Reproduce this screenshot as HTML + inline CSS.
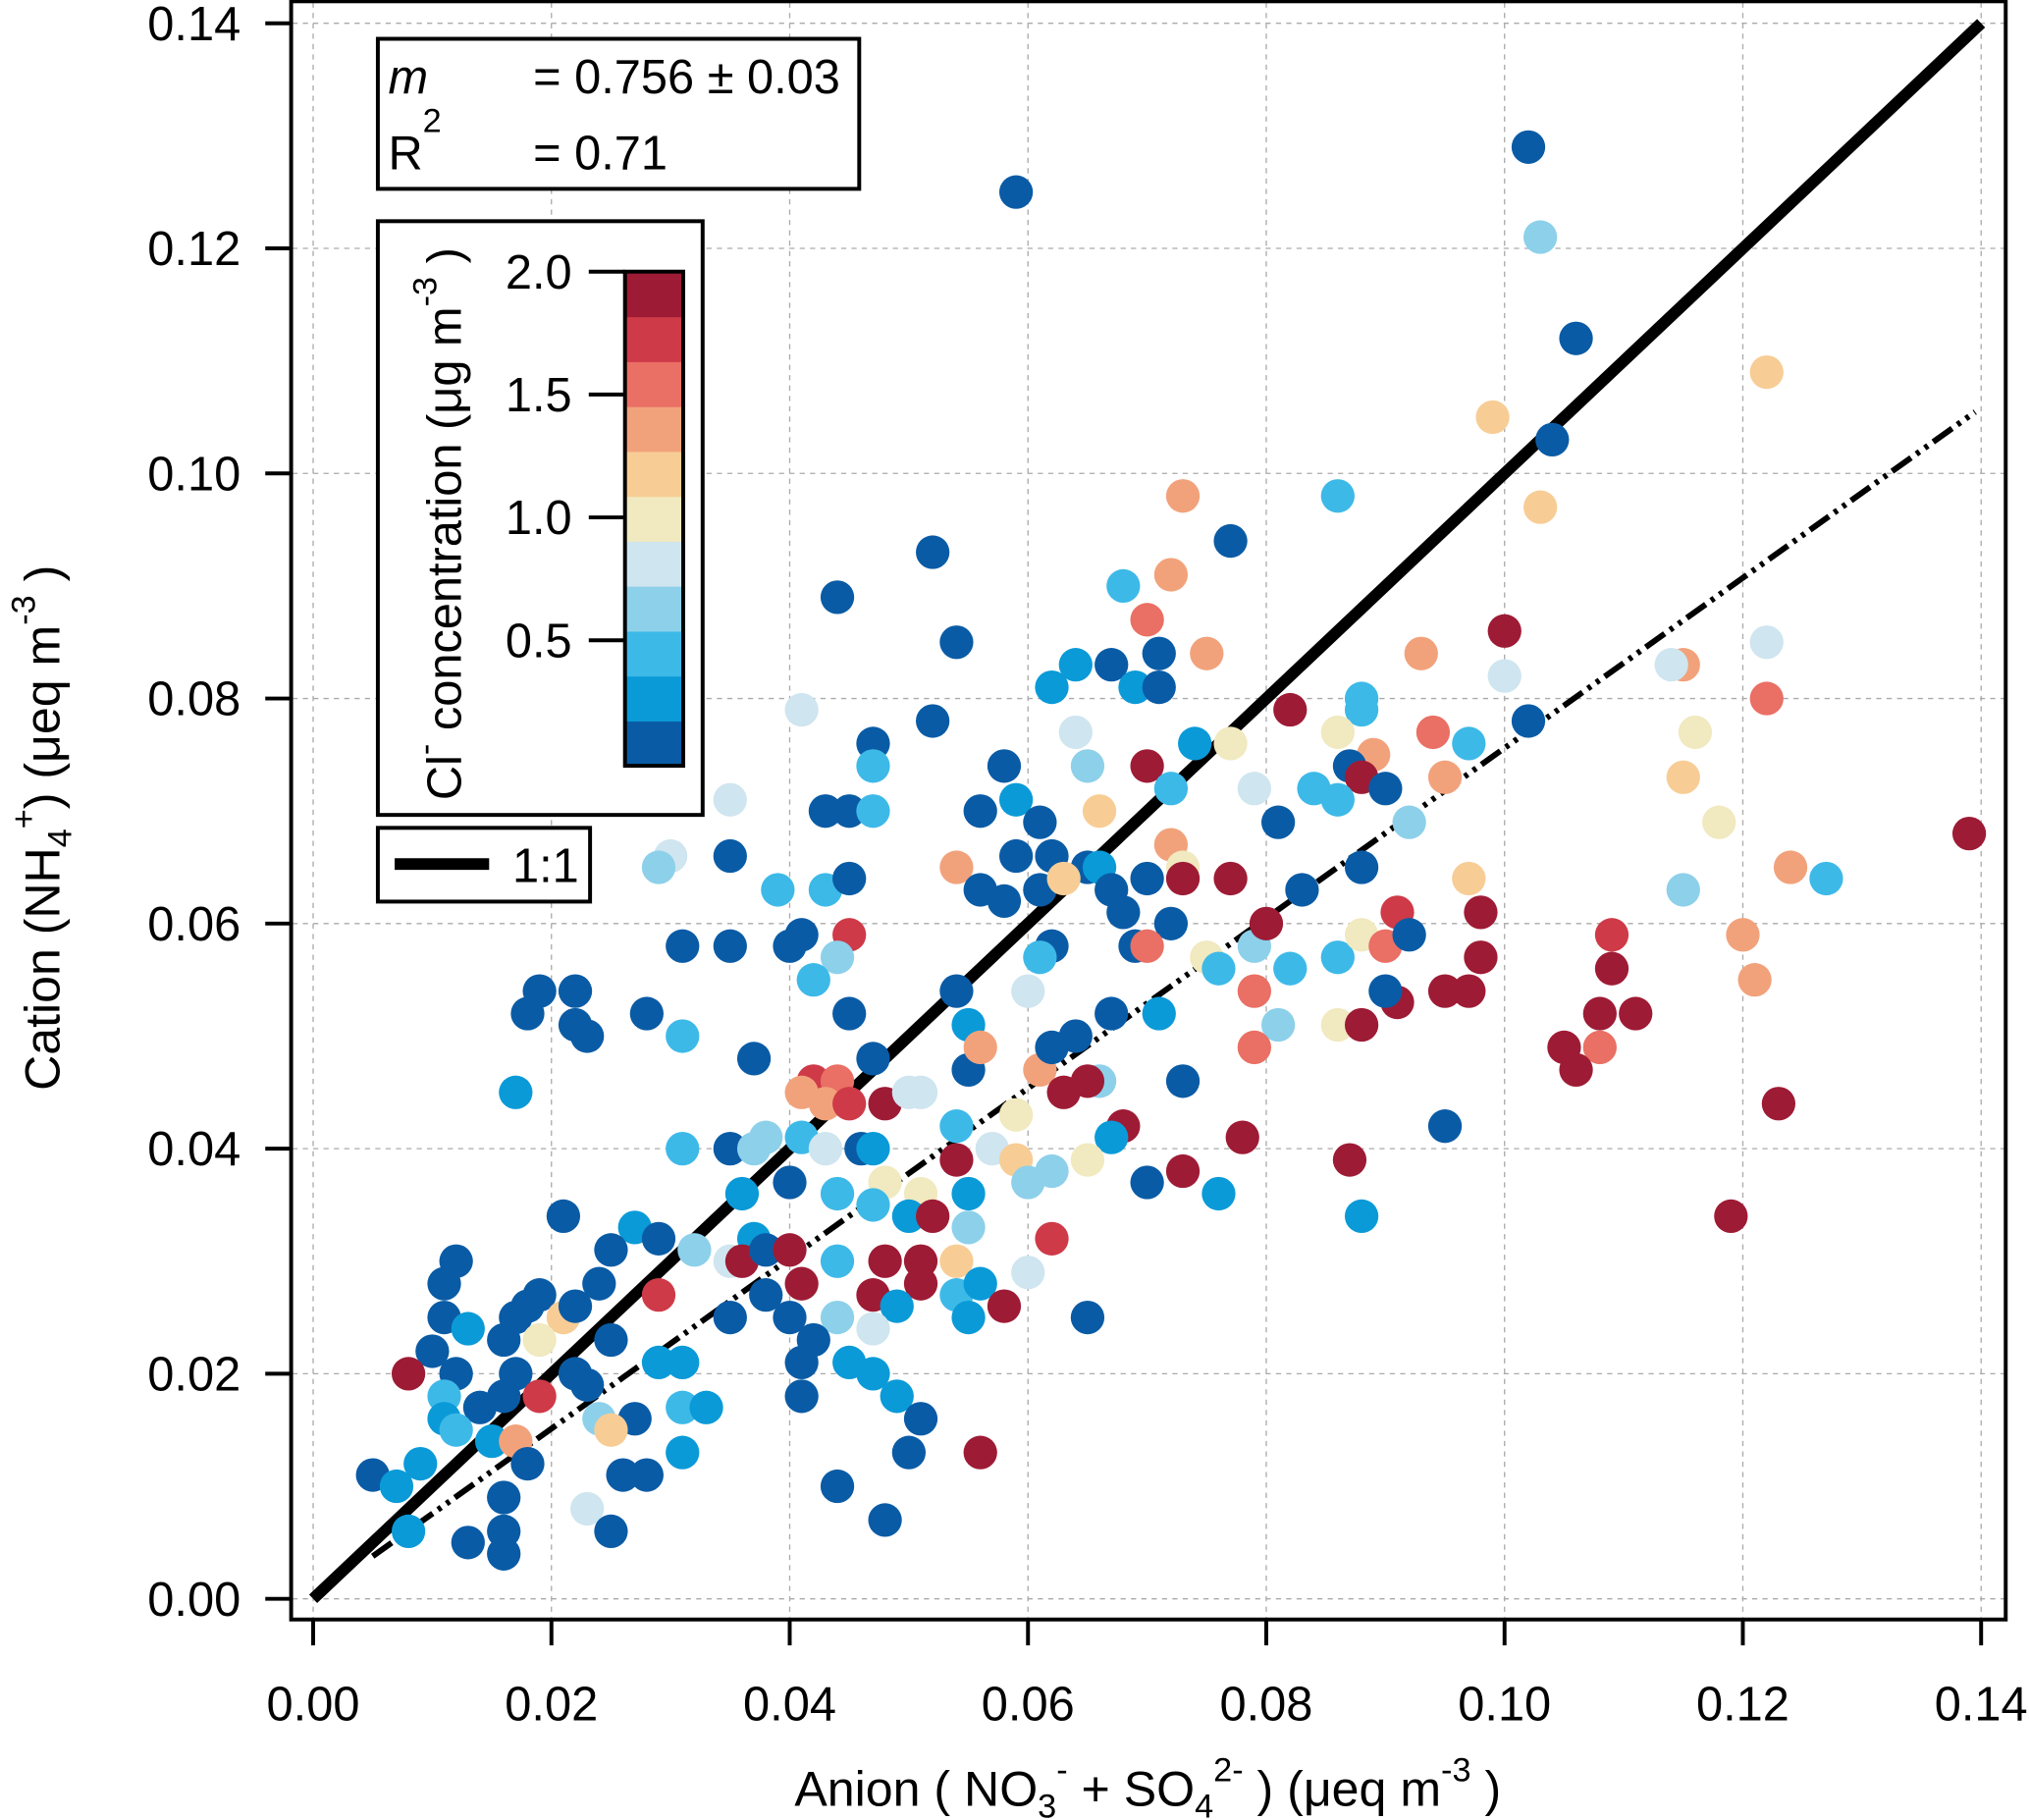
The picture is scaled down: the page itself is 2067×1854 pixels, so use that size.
<!DOCTYPE html>
<html><head><meta charset="utf-8"><style>
html,body{margin:0;padding:0;background:#fff;}
svg{display:block;font-family:"Liberation Sans",Arial,sans-serif;}
</style></head><body>
<svg id="chart" width="2067" height="1854" viewBox="0 0 1568 1407" preserveAspectRatio="none" xmlns="http://www.w3.org/2000/svg">
<g id="grid"></g>
<g id="lines"></g>
<g id="points"></g>
<rect x="225" y="1" width="1325" height="1251" fill="none" stroke="#000" stroke-width="3"/>
<g id="axes"></g>
<text x="887" y="1396" font-size="38" text-anchor="middle">Anion ( NO<tspan font-size="26" dy="9">3</tspan><tspan font-size="26" dy="-28">-</tspan><tspan dy="19"> + SO</tspan><tspan font-size="26" dy="9">4</tspan><tspan font-size="26" dy="-28">2-</tspan><tspan dy="19"> ) (μeq m</tspan><tspan font-size="26" dy="-19">-3</tspan><tspan dy="19"> )</tspan></text>
<text transform="translate(46,640) rotate(-90)" font-size="38" text-anchor="middle">Cation (NH<tspan font-size="26" dy="9">4</tspan><tspan font-size="26" dy="-28">+</tspan><tspan dy="19">) (μeq m</tspan><tspan font-size="26" dy="-19">-3</tspan><tspan dy="19"> )</tspan></text>
<g>
<rect x="292" y="30" width="372" height="116" fill="#fff" stroke="#000" stroke-width="3"/>
<text x="300" y="72" font-size="37" font-style="italic">m</text>
<text x="412" y="72" font-size="37">= 0.756 ± 0.03</text>
<text x="300" y="131" font-size="37">R<tspan font-size="26" dy="-29">2</tspan></text>
<text x="412" y="131" font-size="37">= 0.71</text>
</g>
<g id="cbar">
<rect x="292" y="171" width="251" height="459" fill="#fff" stroke="#000" stroke-width="3"/>
<text transform="translate(356,405) rotate(-90)" font-size="37" text-anchor="middle">Cl<tspan font-size="26" dy="-19">-</tspan><tspan dy="19"> concentration (μg m</tspan><tspan font-size="26" dy="-19">-3</tspan><tspan dy="19"> )</tspan></text>
</g>
<g>
<rect x="292" y="640" width="164" height="57" fill="#fff" stroke="#000" stroke-width="3"/>
<line x1="305" y1="668" x2="378" y2="668" stroke="#000" stroke-width="9"/>
<text x="396" y="682" font-size="37">1:1</text>
</g>
<script>
const xTicks=[0,0.02,0.04,0.06,0.08,0.10,0.12,0.14];
const yTicks=[0,0.02,0.04,0.06,0.08,0.10,0.12,0.14];
const colors=["#0a5ba5","#0a9ad8","#3db9e8","#8dd0ea","#cfe5ef","#f1e9bf","#f7cd95","#f2a27b","#ea6f64","#cf3a48","#9e1b35"];
const cbarTicks=[0.5,1.0,1.5,2.0];
const slope=0.756;
const xs=[0.102,0.059,0.103,0.106,0.122,0.099,0.104,0.103,0.073,0.086,0.077,0.052,0.072,0.068,0.044,0.070,0.100,0.054,0.071,0.075,0.093,0.122,0.064,0.067,0.115,0.114,0.100,0.062,0.069,0.071,0.052,0.041,0.082,0.088,0.088,0.122,0.102,0.086,0.116,0.047,0.064,0.074,0.077,0.094,0.097,0.058,0.065,0.070,0.047,0.089,0.087,0.095,0.115,0.088,0.035,0.059,0.072,0.079,0.084,0.086,0.090,0.043,0.045,0.047,0.056,0.066,0.061,0.081,0.092,0.118,0.030,0.029,0.035,0.054,0.059,0.062,0.065,0.066,0.072,0.073,0.088,0.124,0.139,0.039,0.043,0.045,0.056,0.058,0.061,0.063,0.067,0.070,0.073,0.077,0.083,0.097,0.127,0.115,0.031,0.035,0.040,0.041,0.045,0.044,0.042,0.062,0.061,0.068,0.069,0.072,0.070,0.075,0.076,0.079,0.080,0.082,0.086,0.088,0.090,0.091,0.092,0.098,0.098,0.109,0.120,0.109,0.121,0.019,0.022,0.018,0.022,0.023,0.028,0.031,0.045,0.054,0.055,0.060,0.067,0.071,0.079,0.081,0.086,0.088,0.091,0.090,0.095,0.097,0.108,0.111,0.079,0.105,0.108,0.106,0.017,0.037,0.042,0.041,0.044,0.047,0.051,0.055,0.056,0.061,0.062,0.064,0.066,0.063,0.065,0.073,0.123,0.095,0.043,0.045,0.048,0.050,0.054,0.059,0.068,0.067,0.078,0.031,0.035,0.037,0.038,0.041,0.043,0.046,0.047,0.054,0.057,0.059,0.062,0.065,0.070,0.073,0.076,0.087,0.088,0.119,0.021,0.036,0.040,0.044,0.048,0.051,0.055,0.060,0.047,0.050,0.052,0.027,0.029,0.037,0.055,0.062,0.025,0.032,0.035,0.036,0.038,0.040,0.044,0.048,0.051,0.054,0.012,0.011,0.019,0.024,0.029,0.038,0.041,0.047,0.051,0.054,0.056,0.060,0.018,0.017,0.021,0.022,0.035,0.040,0.044,0.049,0.055,0.058,0.065,0.011,0.013,0.016,0.019,0.025,0.042,0.047,0.010,0.022,0.029,0.031,0.041,0.045,0.047,0.008,0.012,0.017,0.023,0.011,0.016,0.019,0.041,0.049,0.011,0.014,0.024,0.027,0.031,0.033,0.051,0.012,0.015,0.017,0.025,0.018,0.031,0.050,0.056,0.005,0.009,0.026,0.028,0.044,0.007,0.016,0.023,0.048,0.008,0.016,0.025,0.013,0.016];
const ys=[0.129,0.125,0.121,0.112,0.109,0.105,0.103,0.097,0.098,0.098,0.094,0.093,0.091,0.090,0.089,0.087,0.086,0.085,0.084,0.084,0.084,0.085,0.083,0.083,0.083,0.083,0.082,0.081,0.081,0.081,0.078,0.079,0.079,0.080,0.079,0.080,0.078,0.077,0.077,0.076,0.077,0.076,0.076,0.077,0.076,0.074,0.074,0.074,0.074,0.075,0.074,0.073,0.073,0.073,0.071,0.071,0.072,0.072,0.072,0.071,0.072,0.070,0.070,0.070,0.070,0.070,0.069,0.069,0.069,0.069,0.066,0.065,0.066,0.065,0.066,0.066,0.065,0.065,0.067,0.065,0.065,0.065,0.068,0.063,0.063,0.064,0.063,0.062,0.063,0.064,0.063,0.064,0.064,0.064,0.063,0.064,0.064,0.063,0.058,0.058,0.058,0.059,0.059,0.057,0.055,0.058,0.057,0.061,0.058,0.060,0.058,0.057,0.056,0.058,0.060,0.056,0.057,0.059,0.058,0.061,0.059,0.061,0.057,0.059,0.059,0.056,0.055,0.054,0.054,0.052,0.051,0.050,0.052,0.050,0.052,0.054,0.051,0.054,0.052,0.052,0.054,0.051,0.051,0.051,0.053,0.054,0.054,0.054,0.052,0.052,0.049,0.049,0.049,0.047,0.045,0.048,0.046,0.045,0.046,0.048,0.045,0.047,0.049,0.047,0.049,0.050,0.046,0.045,0.046,0.046,0.044,0.042,0.044,0.044,0.044,0.045,0.042,0.043,0.042,0.041,0.041,0.040,0.040,0.040,0.041,0.041,0.040,0.040,0.040,0.039,0.040,0.039,0.038,0.039,0.037,0.038,0.036,0.039,0.034,0.034,0.034,0.036,0.037,0.036,0.037,0.036,0.036,0.037,0.035,0.034,0.034,0.033,0.032,0.032,0.033,0.032,0.031,0.031,0.030,0.030,0.031,0.031,0.030,0.030,0.030,0.030,0.030,0.028,0.027,0.028,0.027,0.027,0.028,0.027,0.028,0.027,0.028,0.029,0.026,0.025,0.025,0.026,0.025,0.025,0.025,0.026,0.025,0.026,0.025,0.025,0.024,0.023,0.023,0.023,0.023,0.024,0.022,0.020,0.021,0.021,0.021,0.021,0.020,0.020,0.020,0.020,0.019,0.018,0.018,0.018,0.018,0.018,0.016,0.017,0.016,0.016,0.017,0.017,0.016,0.015,0.014,0.014,0.015,0.012,0.013,0.013,0.013,0.011,0.012,0.011,0.011,0.010,0.010,0.009,0.008,0.007,0.006,0.006,0.006,0.005,0.004];
const cs=[0,0,3,0,6,6,0,6,7,2,0,0,7,2,0,8,10,0,0,7,7,4,1,0,7,4,4,1,1,0,0,4,10,2,2,8,0,5,5,0,4,1,5,8,2,0,3,10,2,7,0,7,6,10,4,1,2,4,2,2,0,0,0,2,0,6,0,0,3,5,4,3,0,7,0,0,0,1,7,5,0,7,10,2,2,0,0,0,0,6,0,0,10,10,0,6,2,3,0,0,0,0,9,3,2,0,2,0,0,0,8,5,2,3,10,2,2,5,8,9,0,10,10,9,7,10,7,0,0,0,0,0,0,2,0,0,1,4,0,1,8,3,5,10,10,0,10,10,10,10,8,10,8,10,1,0,9,7,8,0,4,0,7,7,0,0,3,10,10,0,10,0,7,9,10,4,2,5,10,1,10,2,0,3,3,2,4,0,1,10,4,6,3,5,0,10,1,10,1,10,0,1,0,2,5,5,1,3,2,1,10,1,0,1,3,9,0,3,4,10,0,10,2,10,10,6,0,0,0,0,9,0,10,10,10,2,1,4,0,0,6,0,0,0,3,1,1,10,0,0,1,0,5,0,0,4,0,0,1,1,0,1,1,10,0,0,0,2,0,9,0,1,1,0,3,0,2,1,0,2,1,7,6,0,1,0,10,0,1,0,0,0,1,0,4,0,1,0,0,0,0,0];
const NS="http://www.w3.org/2000/svg";
const X0=242,X1=1531,Y0=1236,Y1=18;
function sx(v){return X0+(v-xTicks[0])/(xTicks[xTicks.length-1]-xTicks[0])*(X1-X0);}
function sy(v){return Y0-(v-yTicks[0])/(yTicks[yTicks.length-1]-yTicks[0])*(Y0-Y1);}
function mk(tag,attrs,parent){const e=document.createElementNS(NS,tag);for(const k in attrs)e.setAttribute(k,attrs[k]);parent.appendChild(e);return e;}
const grid=document.getElementById('grid'),axes=document.getElementById('axes'),pts=document.getElementById('points'),lines=document.getElementById('lines'),cb=document.getElementById('cbar');
xTicks.forEach(t=>{
 const g=mk('line',{x1:sx(t),x2:sx(t),y1:2,y2:1251,stroke:'#aaa','stroke-width':1,'stroke-dasharray':'4,4'},grid);
 
 
 const tk=mk('line',{x1:sx(t),x2:sx(t),y1:1252,y2:1272,stroke:'#000','stroke-width':3},axes);
 
 
 const lb=mk('text',{x:sx(t),y:1330,'font-size':37,'text-anchor':'middle'},axes);lb.textContent=t.toFixed(2);
 
 
});
yTicks.forEach(t=>{
 const g=mk('line',{x1:226,x2:1549,y1:sy(t),y2:sy(t),stroke:'#aaa','stroke-width':1,'stroke-dasharray':'4,4'},grid);
 
 
 const tk=mk('line',{x1:205,x2:225,y1:sy(t),y2:sy(t),stroke:'#000','stroke-width':3},axes);
 
 
 const lb=mk('text',{x:186,y:sy(t)+13,'font-size':37,'text-anchor':'end'},axes);lb.textContent=t.toFixed(2);
 
 
});
xs.forEach((x,i)=>{
 const c=mk('circle',{cx:sx(x),cy:sy(ys[i]),r:13,fill:colors[cs[i]]},pts);
 
 
});
const l1=mk('line',{x1:sx(0),y1:sy(0),x2:sx(0.14),y2:sy(0.14),stroke:'#000','stroke-width':9},lines);


const fx0=0.005,fx1=0.1395;
const l2=mk('line',{x1:sx(fx0),y1:sy(slope*fx0),x2:sx(fx1),y2:sy(slope*fx1),stroke:'#000','stroke-width':4.5,'stroke-dasharray':'18,5,3,5,3,5'},lines);


// colorbar
const CB0=592,CB1=210,bandH=(CB0-CB1)/colors.length;
colors.forEach((c,i)=>{
 const r=mk('rect',{x:483,y:CB0-(i+1)*bandH,width:45,height:bandH+0.5,fill:c},cb);
 
 
});
mk('rect',{x:483,y:CB1,width:45,height:CB0-CB1,fill:'none',stroke:'#000','stroke-width':3},cb);
cbarTicks.forEach(t=>{
 const y=CB0-t/2.0*(CB0-CB1-2)-2;
 const tk=mk('line',{x1:455,x2:483,y1:y,y2:y,stroke:'#000','stroke-width':3},cb);
 
 
 const lb=mk('text',{x:442,y:y+13,'font-size':37,'text-anchor':'end'},cb);lb.textContent=t.toFixed(1);
 
 
});
</script>
</svg>
</body></html>
